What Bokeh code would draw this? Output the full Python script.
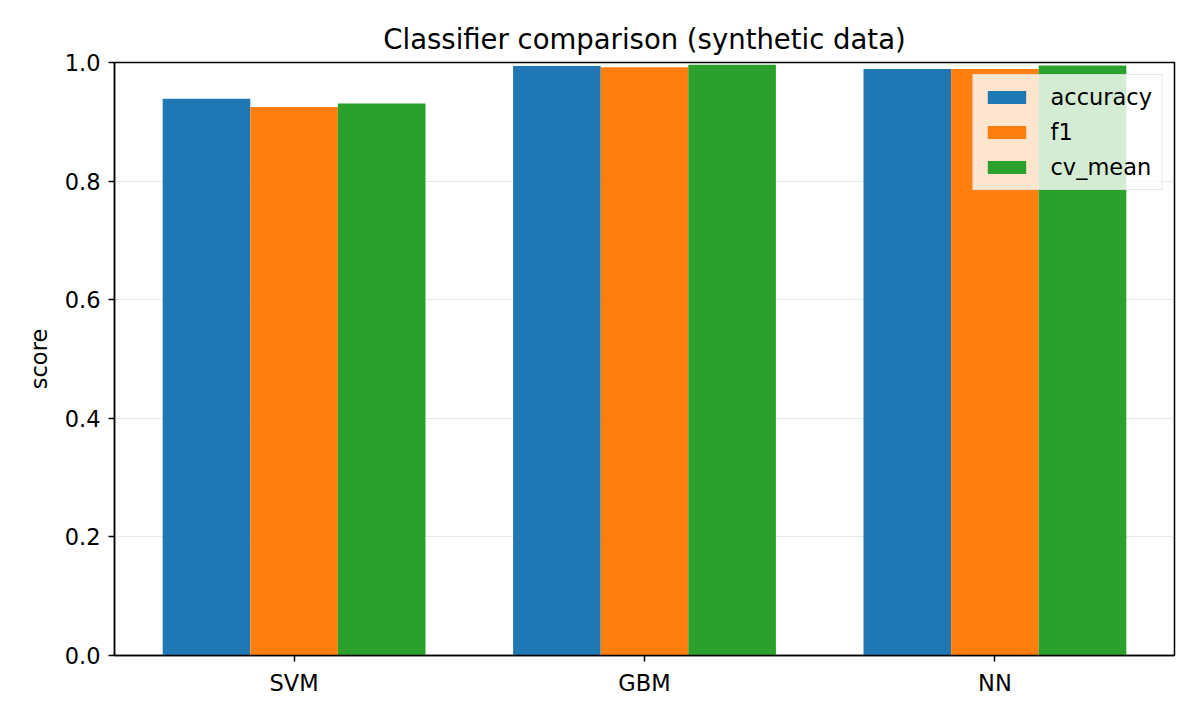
from bokeh.plotting import figure
from bokeh.models import Range1d, FixedTicker, NumeralTickFormatter, Legend, LegendItem, ColumnDataSource
from bokeh.embed import file_html
from bokeh.resources import INLINE

models = ["SVM", "GBM", "NN"]
metrics = ["accuracy", "f1", "cv_mean"]
accuracy = [0.939, 0.994, 0.989]
f1 = [0.925, 0.992, 0.989]
cv_mean = [0.931, 0.996, 0.995]
colors = ["#1f77b4", "#ff7f0e", "#2ca02c"]
y_ticks = [0.0, 0.2, 0.4, 0.6, 0.8, 1.0]

FONT = "DejaVu Sans"
bar_w = 0.25

p = figure(width=1200, height=720, output_backend="svg", toolbar_location=None,
           x_range=Range1d(-0.5125, 2.5125), y_range=Range1d(0, 1.0),
           min_border_left=114, min_border_right=26, min_border_top=62, min_border_bottom=65)

p.title.text = "Classifier comparison (synthetic data)"
p.title.align = "center"
p.title.text_font = FONT
p.title.text_font_size = "27.5px"
p.title.text_font_style = "normal"
p.title.text_color = "#000000"
p.title.standoff = 16

series = [accuracy, f1, cv_mean]
items = []
for i, (name, vals) in enumerate(zip(metrics, series)):
    offset = (i - 1) * bar_w
    src = ColumnDataSource(dict(x=[k + offset for k in range(len(models))], top=vals))
    r = p.vbar(x="x", top="top", bottom=0, width=bar_w, source=src,
               fill_color=colors[i], line_color=None)
    items.append(LegendItem(label=name, renderers=[r]))

legend = Legend(items=items, location="top_right")
legend.label_text_font = FONT
legend.label_text_font_size = "22.5px"
legend.label_text_color = "#000000"
legend.glyph_width = 48
legend.glyph_height = 16
legend.label_height = 20
legend.label_standoff = 20
legend.spacing = 9
legend.padding = 9
legend.margin = 12
legend.border_line_color = "#cccccc"
legend.border_line_width = 1
legend.background_fill_color = "white"
legend.background_fill_alpha = 0.8
p.add_layout(legend)

# axes
p.xaxis.ticker = FixedTicker(ticks=[0, 1, 2])
p.xaxis.major_label_overrides = {0: "SVM", 1: "GBM", 2: "NN"}
p.yaxis.ticker = FixedTicker(ticks=y_ticks)
p.yaxis.formatter = NumeralTickFormatter(format="0.0")
p.yaxis.axis_label = "score"

for ax in (p.xaxis, p.yaxis):
    ax.axis_line_color = "#000000"
    ax.axis_line_width = 1.5
    ax.major_tick_line_color = "#000000"
    ax.major_tick_line_width = 1.5
    ax.major_tick_out = 6
    ax.major_tick_in = 0
    ax.minor_tick_line_color = None
    ax.major_label_text_font = FONT
    ax.major_label_text_font_size = "22.5px"
    ax.major_label_text_color = "#000000"
    ax.axis_label_text_font = FONT
    ax.axis_label_text_font_size = "22.5px"
    ax.axis_label_text_font_style = "normal"
    ax.axis_label_text_color = "#000000"
    ax.major_label_standoff = 8
p.yaxis.axis_label_standoff = 10

p.xgrid.grid_line_color = None
p.ygrid.grid_line_color = "#b0b0b0"
p.ygrid.grid_line_alpha = 0.3
p.ygrid.grid_line_width = 1.2
p.ygrid.ticker = FixedTicker(ticks=y_ticks)

p.outline_line_color = "#000000"
p.outline_line_width = 1.5
p.outline_line_alpha = 1.0
p.background_fill_color = "white"
p.border_fill_color = "white"

open("out.html", "w").write(file_html(p, INLINE))
